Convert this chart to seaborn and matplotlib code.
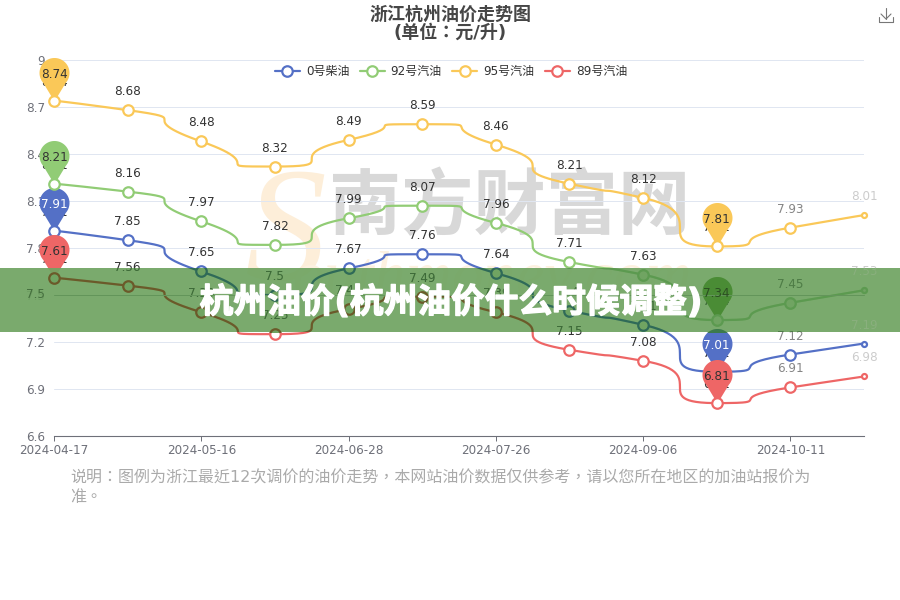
import numpy as np
import pandas as pd
import seaborn as sns
import matplotlib.pyplot as plt
import matplotlib.patheffects as pe
from matplotlib.lines import Line2D
from matplotlib.patches import Rectangle
from matplotlib.path import Path

# data
names = ['0号柴油', '92号汽油', '95号汽油', '89号汽油']
colors = ['#5470c6', '#91cc75', '#fac858', '#ee6666']
dark_colors = ['#2f6a58', '#5c9a50', '#5f8f45', '#6b5a2a']
diesel0 = [7.91, 7.85, 7.65, 7.5, 7.67, 7.76, 7.64, 7.4, 7.31, 7.01, 7.12, 7.19]
gas92 = [8.21, 8.16, 7.97, 7.82, 7.99, 8.07, 7.96, 7.71, 7.63, 7.34, 7.45, 7.53]
gas95 = [8.74, 8.68, 8.48, 8.32, 8.49, 8.59, 8.46, 8.21, 8.12, 7.81, 7.93, 8.01]
gas89 = [7.61, 7.56, 7.39, 7.25, 7.41, 7.49, 7.39, 7.15, 7.08, 6.81, 6.91, 6.98]
all_series = [diesel0, gas92, gas95, gas89]
x_ticks = [0, 2, 4, 6, 8, 10]
x_labels = ['2024-04-17', '2024-05-16', '2024-06-28', '2024-07-26', '2024-09-06', '2024-10-11']
y_ticks = [6.6, 6.9, 7.2, 7.5, 7.8, 8.1, 8.4, 8.7, 9.0]
y_labels = ['6.6', '6.9', '7.2', '7.5', '7.8', '8.1', '8.4', '8.7', '9']
title = '浙江杭州油价走势图\n(单位：元/升)'
banner = '杭州油价(杭州油价什么时候调整)'
note = '说明：图例为浙江最近12次调价的油价走势，本网站油价数据仅供参考，请以您所在地区的加油站报价为\n准。'

sns.set_theme(style='white')
plt.rcParams['font.family'] = ['DejaVu Sans', 'Noto Sans CJK SC']
tc_font = ['DejaVu Sans', 'Noto Sans CJK TC']

W, H = 900, 600
PX = 0.72  # points per pixel at dpi 100
fig = plt.figure(figsize=(9, 6), dpi=100, facecolor='white')
ax = fig.add_axes([54 / W, 1 - 436 / H, 810 / W, 376 / H])
ax.set_xlim(0, 11)
ax.set_ylim(6.6, 9.0)
ax.patch.set_alpha(0)
sx = 810 / 11
sy = 376 / 2.4


def smooth_curve(values):
    # same bezier rule as the echarts line with smooth: true
    pts = [(i * sx, v * sy) for i, v in enumerate(values)]
    xs, ys = [], []
    cp0 = pts[0]
    for i in range(1, len(pts)):
        prev, cur = pts[i - 1], pts[i]
        if i == len(pts) - 1:
            cp1 = cur
            next_cp = cur
        else:
            nxt = pts[i + 1]
            len_prev = np.hypot(cur[0] - prev[0], cur[1] - prev[1])
            len_next = np.hypot(nxt[0] - cur[0], nxt[1] - cur[1])
            ratio = len_next / (len_next + len_prev)
            nc = []
            for k in range(2):
                v = nxt[k] - prev[k]
                c = cur[k] + v * ratio
                c = min(c, max(nxt[k], cur[k]))
                c = max(c, min(nxt[k], cur[k]))
                nc.append(c)
            cp1 = []
            for k in range(2):
                c = cur[k] - (nc[k] - cur[k]) * len_prev / len_next
                c = min(c, max(prev[k], cur[k]))
                c = max(c, min(prev[k], cur[k]))
                cp1.append(c)
            next_cp = [cur[k] + (cur[k] - cp1[k]) * len_next / len_prev for k in range(2)]
        t = np.linspace(0, 1, 60)
        bx = (1 - t) ** 3 * prev[0] + 3 * t * (1 - t) ** 2 * cp0[0] + 3 * t ** 2 * (1 - t) * cp1[0] + t ** 3 * cur[0]
        by = (1 - t) ** 3 * prev[1] + 3 * t * (1 - t) ** 2 * cp0[1] + 3 * t ** 2 * (1 - t) * cp1[1] + t ** 3 * cur[1]
        xs.extend(bx)
        ys.extend(by)
        cp0 = next_cp
    return np.array(xs) / sx, np.array(ys) / sy


def pin_path():
    # tip sits on (0, 0), round head above it
    r = 15.0
    cy = 28.5
    ang = np.radians(np.linspace(-42, 222, 50))
    head = np.column_stack([r * np.cos(ang), cy + r * np.sin(ang)])
    verts = [(0, 0)] + [tuple(p) for p in head] + [(0, 0)]
    return Path(verts, closed=False)


# watermark
fig.text(510 / W, 1 - 208 / H, '南方财富网', fontsize=52, color='#d8d8d8', ha='center', va='center',
         fontweight='bold', family=['Noto Sans CJK SC'], zorder=-1)
fig.text(285 / W, 1 - 240 / H, 'S', fontsize=118, color='#fdeed9', ha='center', va='center',
         style='italic', family=['Liberation Serif'], zorder=-1)
fig.text(492 / W, 1 - 280 / H, 'outhmoney.com', fontsize=46, color='#fdf1e0', ha='center', va='center',
         style='italic', family=['Liberation Serif'], zorder=-1)

# axes
ax.set_yticks(y_ticks)
ax.set_yticklabels(y_labels)
ax.set_xticks(x_ticks)
ax.set_xticklabels(x_labels)
ax.tick_params(axis='y', length=0, pad=6.5, labelsize=12 * PX, labelcolor='#6e7079')
ax.tick_params(axis='x', length=5 * PX, width=1 * PX, color='#6e7079', pad=2.2, labelsize=12 * PX,
               labelcolor='#6e7079', bottom=True)
ax.grid(True, axis='y', color='#e0e6f1', linewidth=1 * PX)
ax.grid(False, axis='x')
for s in ['top', 'right', 'left']:
    ax.spines[s].set_visible(False)
ax.spines['bottom'].set_color('#6e7079')
ax.spines['bottom'].set_linewidth(1.1 * PX)
ax.set_axisbelow(True)

label_color = ['#333333'] * 10 + ['#858585', '#cccccc']
under_color = ['#3d6a38'] * 10 + ['#4f7d47', '#8ab07e']
pin = pin_path()
pin_s = (43.5 * 2 * PX) ** 2
ring_s = (10.5 * PX) ** 2
end_s = (5 * PX) ** 2
line_w = 2.2 * PX
band_color = '#70a462'
band = Rectangle((0, 1 - 332 / H), 1, 64 / H, transform=fig.transFigure, facecolor=band_color, edgecolor='none',
                 alpha=0.93, zorder=30, clip_on=False)
ax.add_patch(band)

idx = np.arange(12)
for n, vals in enumerate(all_series):
    cx, cy = smooth_curve(vals)
    df = pd.DataFrame({'x': cx, 'y': cy})
    sns.lineplot(data=df, x='x', y='y', sort=False, estimator=None, color=colors[n], linewidth=line_w, ax=ax,
                 zorder=3, clip_on=False, legend=False)
    # darker copy for the part under the banner
    sns.lineplot(data=df, x='x', y='y', sort=False, estimator=None, color=dark_colors[n], linewidth=line_w, ax=ax,
                 zorder=31, legend=False)
    ax.lines[-1].set_clip_path(band)

    for i, v in enumerate(vals):
        ax.annotate(str(v), (i, v), xytext=(0, 18.5 * PX), textcoords='offset points', ha='center', va='center',
                    fontsize=12 * PX, color=label_color[i], zorder=4, annotation_clip=False)
        under = ax.annotate(str(v), (i, v), xytext=(0, 18.5 * PX), textcoords='offset points', ha='center', va='center',
                            fontsize=12 * PX, color=under_color[i], zorder=31, annotation_clip=False)
        under.set_clip_on(True)
        under.set_clip_path(band)

    # pins on the highest and lowest price
    hi = int(np.argmax(vals))
    lo = int(np.argmin(vals))
    sns.scatterplot(x=[hi, lo], y=[vals[hi], vals[lo]], marker=pin, s=pin_s, color=colors[n], linewidth=0,
                    ax=ax, zorder=5 + n, clip_on=False, legend=False)
    if n == 1:
        # green pin under the banner
        sns.scatterplot(x=[lo], y=[vals[lo]], marker=pin, s=pin_s, color='#4a8c35', linewidth=0,
                        ax=ax, zorder=31, legend=False)
        ax.collections[-1].set_clip_path(band)
    if n == 0:
        sns.scatterplot(x=[lo], y=[vals[lo]], marker=pin, s=pin_s, color='#3c7a4c', linewidth=0,
                        ax=ax, zorder=31, legend=False)
        ax.collections[-1].set_clip_path(band)
    txt_col = 'white' if n == 0 else '#333333'
    for i in [hi, lo]:
        ax.annotate(str(vals[i]), (i, vals[i]), xytext=(0, 26.5 * PX), textcoords='offset points', ha='center',
                    va='center', fontsize=12 * PX, color=txt_col, zorder=12, annotation_clip=False)
        if n == 1 and i == lo:
            t = ax.annotate(str(vals[i]), (i, vals[i]), xytext=(0, 26.5 * PX), textcoords='offset points', ha='center',
                            va='center', fontsize=12 * PX, color='#2c4f22', zorder=33, annotation_clip=False)
            t.set_clip_on(True)
            t.set_clip_path(band)

    # point rings, the last one is small
    sns.scatterplot(x=idx[:-1], y=vals[:-1], s=ring_s, facecolor='white', edgecolor=colors[n],
                    linewidth=line_w, ax=ax, zorder=5.5 + n, clip_on=False, legend=False)
    sns.scatterplot(x=idx[-1:], y=vals[-1:], s=end_s, facecolor='white', edgecolor=colors[n],
                    linewidth=line_w, ax=ax, zorder=5.5 + n, clip_on=False, legend=False)
    sns.scatterplot(x=idx[:-1], y=vals[:-1], s=ring_s, facecolor=band_color, edgecolor=dark_colors[n],
                    linewidth=line_w, ax=ax, zorder=32, legend=False)
    ax.collections[-1].set_clip_path(band)
    sns.scatterplot(x=idx[-1:], y=vals[-1:], s=end_s, facecolor=band_color, edgecolor=dark_colors[n],
                    linewidth=line_w, ax=ax, zorder=32, legend=False)
    ax.collections[-1].set_clip_path(band)

ax.set_xlabel('')
ax.set_ylabel('')

# grid line and tick label showing through the banner
g = ax.axhline(7.5, color='#63955a', linewidth=1 * PX, zorder=31)
g.set_clip_path(band)
fig.text(45 / W, 1 - 295 / H, '7.5', fontsize=12 * PX, color='#456f3e', ha='right', va='center', zorder=40)

# legend
handles = [Line2D([0], [0], color=c, linewidth=line_w, marker='o', markersize=10.5 * PX, markerfacecolor='white',
                  markeredgecolor=c, markeredgewidth=line_w) for c in colors]
leg = ax.legend(handles, names, ncol=4, loc='center', bbox_to_anchor=((451 - 54) / 810, 1 + (60 - 71.5) / 376),
                frameon=False, fontsize=12 * PX, labelcolor='#333333', handlelength=2.08, handletextpad=0.5,
                columnspacing=0.87, borderpad=0, borderaxespad=0)
leg.set_zorder(7)

fig.text(450 / W, 1 - 24 / H, title, fontsize=18 * PX, fontweight='bold', color='#464646', ha='center', va='center',
         linespacing=1.0, family=tc_font)
fig.text(70 / W, 1 - 487.5 / H, note, fontsize=16 * PX, color='#aaaaaa', ha='left', va='center', linespacing=1.35,
         family=tc_font)

# download icon
fig.add_artist(Line2D(np.array([879, 879, 893, 893]) / W, 1 - np.array([17, 22, 22, 17]) / H, color='#777777',
                      linewidth=0.8))
fig.add_artist(Line2D(np.array([886, 886]) / W, 1 - np.array([8, 19]) / H, color='#777777', linewidth=0.8))
fig.add_artist(Line2D(np.array([881, 886, 891]) / W, 1 - np.array([14, 19, 14]) / H, color='#777777', linewidth=0.8))

# banner title
ax.text(450.5 / W, 1 - 303 / H, banner, transform=fig.transFigure, fontsize=33.7 * PX, fontweight='bold', color='white',
        ha='center', va='center', zorder=50, clip_on=False,
        path_effects=[pe.withStroke(linewidth=1.0, foreground='white')])

fig.savefig('out.png', dpi=100)
